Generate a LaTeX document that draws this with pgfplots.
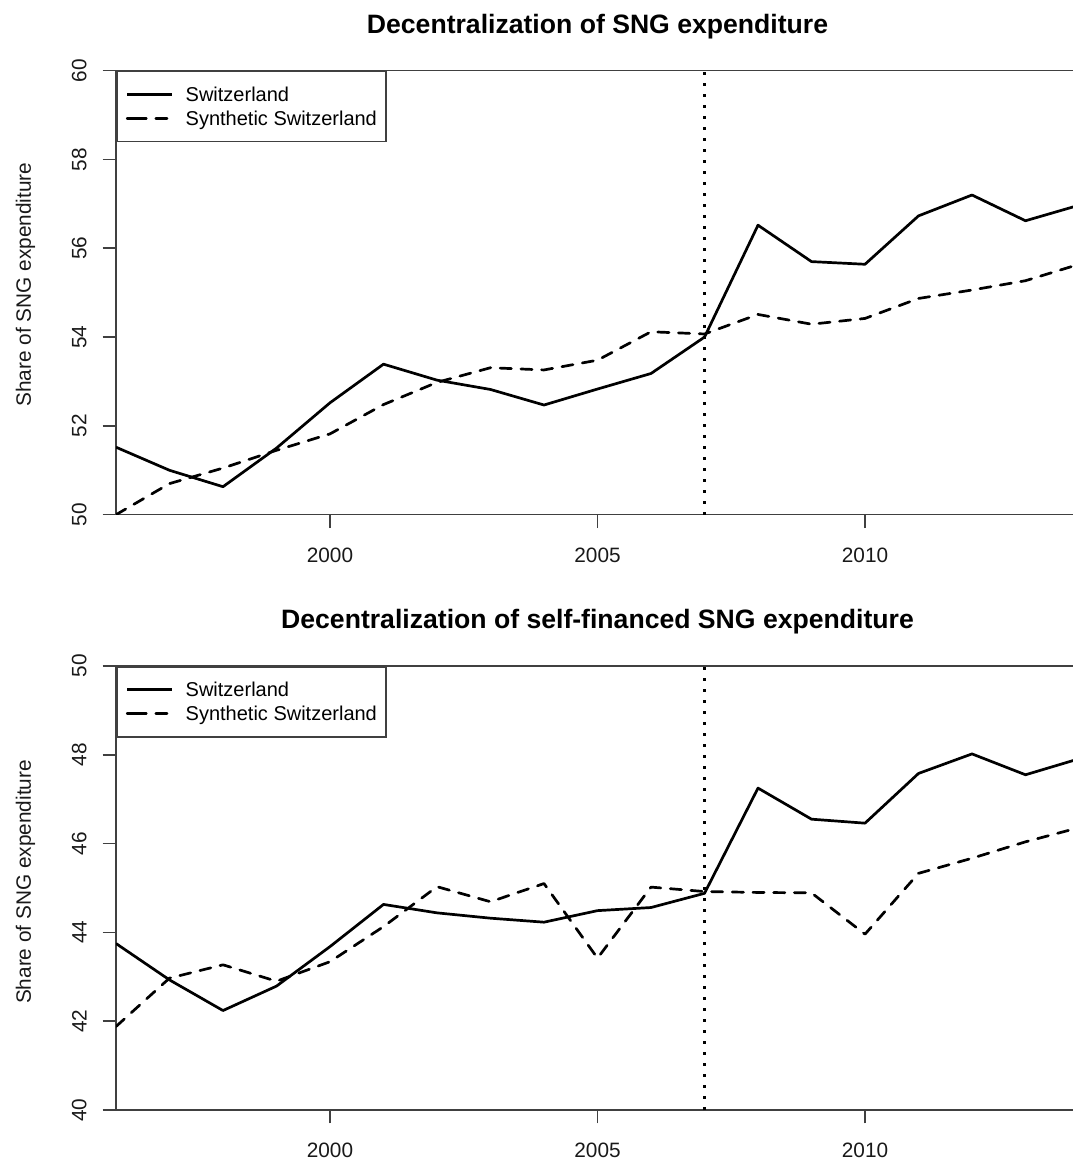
\documentclass[border=0pt]{standalone}
\usepackage{fontspec}
\setmainfont{Liberation Sans}
\usepackage{pgfplots}
\pgfplotsset{compat=1.18}
\usepackage{pgfplotstable}

\pgfplotstableread{
year swi syn
1996 51.52 50.00
1997 51.00 50.70
1998 50.63 51.05
1999 51.50 51.45
2000 52.52 51.82
2001 53.39 52.48
2002 53.03 52.98
2003 52.82 53.31
2004 52.47 53.26
2005 52.83 53.48
2006 53.18 54.12
2007 54.00 54.07
2008 56.52 54.51
2009 55.70 54.29
2010 55.64 54.42
2011 56.73 54.87
2012 57.20 55.06
2013 56.62 55.27
2014 56.97 55.64
}\topdata

\pgfplotstableread{
year swi syn
1996 43.75 41.88
1997 42.93 42.97
1998 42.24 43.27
1999 42.79 42.90
2000 43.68 43.34
2001 44.63 44.13
2002 44.44 45.03
2003 44.32 44.69
2004 44.23 45.10
2005 44.49 43.42
2006 44.56 45.02
2007 44.88 44.92
2008 47.25 44.90
2009 46.55 44.89
2010 46.46 43.96
2011 47.58 45.33
2012 48.02 45.67
2013 47.55 46.04
2014 47.91 46.36
}\botdata

\tikzset{
  ylab/.style={rotate=90, anchor=base, text=black!90, font=\fontsize{10.4}{12.5}\selectfont},
}

\pgfplotsset{
  rstyle/.style={
    scale only axis, width=481.5pt, height=222pt,
    xmin=1996, xmax=2014,
    clip mode=individual,
    xtick={2000,2005,2010},
    axis line style={black!75, line width=0.8pt},
    tick style={black!75, line width=0.8pt},
    tick align=outside, major tick length=6.7pt,
    tick pos=left,
    /pgf/number format/assume math mode=true,
    /pgf/number format/set thousands separator={},
    ticklabel style={font=\fontsize{10.4}{12.5}\selectfont, text=black!90},
    xticklabel style={anchor=north, inner sep=0pt},
    yticklabel style={rotate=90, anchor=south, inner sep=0pt},
    xticklabel shift=9.8pt,
    yticklabel shift=7.8pt,
    title style={at={(rel axis cs:0.5,1)}, anchor=base, yshift=12.7pt,
      font=\bfseries\fontsize{13.3}{16}\selectfont},
    legend style={at={(rel axis cs:0,1)}, anchor=north west,
      draw=black!75, line width=0.8pt,
      inner xsep=4.5pt, inner ysep=6.5pt,
      font=\fontsize{10}{12}\selectfont,
      nodes={inner sep=0pt, text height=8.3pt, text depth=1.7pt},
      row sep=2pt,
      /tikz/every odd column/.append style={column sep=6.1pt}},
    legend cell align=left,
    legend image code/.code={\path (0pt,0pt) -- (4pt,0pt); \draw[##1] (4pt,0pt) -- (22.5pt,0pt);},
  },
  swiline/.style={black, line width=1.35pt, line join=round, solid},
  synline/.style={black, line width=1.35pt, line join=round, line cap=round, dash pattern=on 5.6pt off 4.75pt},
  vline/.style={black, line width=1.1pt, dash pattern=on 1.4pt off 4.1pt},
}

\begin{document}
\begin{tikzpicture}
\useasboundingbox (0,0) rectangle (536pt,582.5pt);

\begin{axis}[rstyle, at={(58pt,325.15pt)}, anchor=south west,
  ymin=50, ymax=60, ytick={50,52,54,56,58,60},
  title={Decentralization of SNG expenditure}]
\addplot[swiline] table[x=year, y=swi] {\topdata};
\addlegendentry{Switzerland}
\addplot[synline] table[x=year, y=syn] {\topdata};
\addlegendentry{Synthetic Switzerland}
\addplot[vline, forget plot] coordinates {(2007,50) (2007,60)};
\node[ylab] at ([xshift=-42.6pt, yshift=4pt]rel axis cs:0,0.5) {Share of SNG expenditure};
\end{axis}

\begin{axis}[rstyle, at={(58pt,27.5pt)}, anchor=south west,
  ymin=40, ymax=50, ytick={40,42,44,46,48,50},
  title={Decentralization of self-financed SNG expenditure}]
\addplot[swiline] table[x=year, y=swi] {\botdata};
\addlegendentry{Switzerland}
\addplot[synline] table[x=year, y=syn] {\botdata};
\addlegendentry{Synthetic Switzerland}
\addplot[vline, forget plot] coordinates {(2007,40) (2007,50)};
\node[ylab] at ([xshift=-42.6pt, yshift=3pt]rel axis cs:0,0.5) {Share of SNG expenditure};
\end{axis}
\end{tikzpicture}
\end{document}
